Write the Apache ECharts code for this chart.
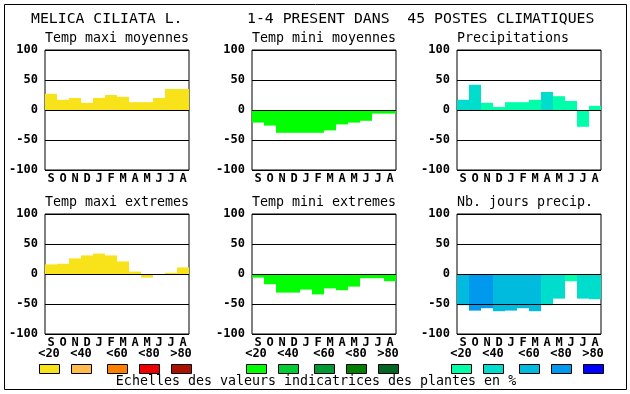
<!DOCTYPE html>
<html><head><meta charset="utf-8">
<script src="https://cdn.jsdelivr.net/npm/echarts@6/dist/echarts.min.js"></script>
<style>html,body{margin:0;padding:0;background:#fff}#c{width:630px;height:394px}</style>
</head><body><div id="c"></div>
<script>
var months = ['S','O','N','D','J','F','M','A','M','J','J','A'];
var yTicks = [-100, -50, 0, 50, 100];
var legendLabels = ['<20','<40','<60','<80','>80'];
var mainTitleLeft = 'MELICA CILIATA L.';
var mainTitleRight = '1-4 PRESENT DANS  45 POSTES CLIMATIQUES';
var scaleCaption = 'Echelles des valeurs indicatrices des plantes en %';

var tempColors = ['#f8e219','#ffbb4c','#ff7f00','#ee0000','#aa1100'];
var minColors = ['#00ff00','#00cc33','#009933','#007f00','#006622'];
var precColors = ['#00ffaa','#00ddcc','#00bbdd','#0099ee','#0000ff'];

var panelTitles = ['Temp maxi moyennes','Temp mini moyennes','Precipitations',
                   'Temp maxi extremes','Temp mini extremes','Nb. jours precip.'];

var tmaxMoy = [27,17,20,12,20,25,22,13,13,20,35,35];
var tmaxMoyCls = [0,0,0,0,0,0,0,0,0,0,0,0];
var tminMoy = [-21,-26,-38,-38,-38,-38,-34,-24,-21,-18,-6,-6];
var tminMoyCls = [0,0,0,0,0,0,0,0,0,0,0,0];
var precip = [17,42,12,5,13,13,17,30,23,15,-28,7];
var precipCls = [1,1,0,0,0,0,0,1,0,0,0,0];
var tmaxExt = [16,17,26,31,34,31,21,4,-6,0,2,11];
var tmaxExtCls = [0,0,0,0,0,0,0,0,0,0,0,0];
var tminExt = [-6,-17,-31,-31,-26,-34,-24,-27,-21,-7,-7,-12];
var tminExtCls = [0,0,0,0,0,0,0,0,0,0,0,0];
var nbJours = [-52,-61,-57,-62,-61,-57,-62,-52,-41,-12,-41,-42];
var nbJoursCls = [2,3,3,2,2,2,2,1,1,0,1,1];

var panels = [
  {vals:tmaxMoy, cls:tmaxMoyCls, pal:tempColors},
  {vals:tminMoy, cls:tminMoyCls, pal:minColors},
  {vals:precip, cls:precipCls, pal:precColors},
  {vals:tmaxExt, cls:tmaxExtCls, pal:tempColors},
  {vals:tminExt, cls:tminExtCls, pal:minColors},
  {vals:nbJours, cls:nbJoursCls, pal:precColors}
];
var lefts = [45, 252, 457];
var tops = [50, 214];
var W = 144, H = 120;
var mono = 'DejaVu Sans Mono';

var grids = [], xAxes = [], yAxes = [], series = [], titles = [], graphics = [];
panels.forEach(function(p, i){
  var col = i % 3, row = Math.floor(i / 3);
  grids.push({left: lefts[col], top: tops[row], width: W, height: H,
    show: true, borderColor: '#000', borderWidth: 1, backgroundColor: 'transparent'});
  xAxes.push({type:'category', gridIndex:i, data: months,
    axisLine:{show:false}, axisTick:{show:false},
    axisLabel:{interval:0, margin:3, fontFamily:mono, fontWeight:'bold', fontSize:12, color:'#000'}});
  yAxes.push({type:'value', gridIndex:i, min:yTicks[0], max:yTicks[yTicks.length-1], interval:50, z:5,
    axisLine:{show:false}, axisTick:{show:false},
    splitLine:{show:true, lineStyle:{color:'#000', width:1}},
    axisLabel:{margin:7, fontFamily:mono, fontWeight:'bold', fontSize:12, color:'#000'}});
  series.push({type:'bar', xAxisIndex:i, yAxisIndex:i, barCategoryGap:'0%', z:2,
    data: p.vals.map(function(v, k){ return {value:v, itemStyle:{color:p.pal[p.cls[k]]}}; }),
    silent:true, animation:false});
  titles.push({text: panelTitles[i], left: lefts[col], top: tops[row] - 18, padding:0,
    textStyle:{fontFamily:mono, fontWeight:'normal', fontSize:13.3, color:'#000'}});
});
titles.push({text: mainTitleLeft, left: 31, top: 12, padding:0,
  textStyle:{fontFamily:mono, fontWeight:'normal', fontSize:14.8, color:'#000'}});
titles.push({text: mainTitleRight, left: 247, top: 12, padding:0,
  textStyle:{fontFamily:mono, fontWeight:'normal', fontSize:14.8, color:'#000'}});

// frame
graphics.push({type:'rect', shape:{x:4.5, y:4.5, width:622, height:385},
  style:{fill:'none', stroke:'#000', lineWidth:1}, silent:true});
var legendGroupX = [[39,71,107,139,171],[246,278,314,346,378],[451,483,519,551,583]];
var legendPals = [tempColors, minColors, precColors];
legendGroupX.forEach(function(xs, g){
  xs.forEach(function(x, k){
    graphics.push({type:'rect', shape:{x:x+0.5, y:364.5, width:20, height:9},
      style:{fill:legendPals[g][k], stroke:'#000', lineWidth:1}, silent:true});
    graphics.push({type:'text', x:x+10, y:354,
      style:{text:legendLabels[k], font:'bold 12px "DejaVu Sans Mono"', fill:'#000', align:'center', verticalAlign:'middle'}, silent:true});
  });
});
graphics.push({type:'text', x:316, y:382,
  style:{text:scaleCaption, font:'13.3px "DejaVu Sans Mono"', fill:'#000', align:'center', verticalAlign:'middle'}, silent:true});

var chart = echarts.init(document.getElementById('c'), null, {renderer:'canvas'});
chart.setOption({
  animation:false, backgroundColor:'#fff',
  title: titles, grid: grids, xAxis: xAxes, yAxis: yAxes, series: series, graphic: graphics
});
</script></body></html>
